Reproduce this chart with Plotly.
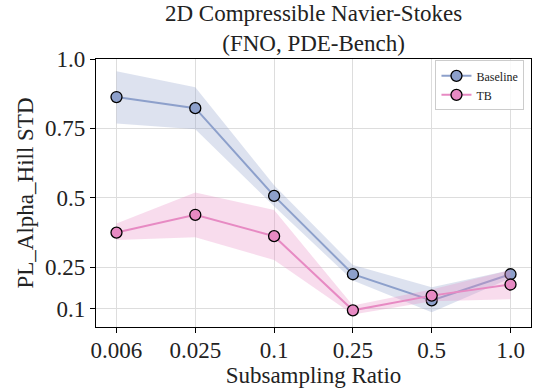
import plotly.graph_objects as go

# Subsampling ratios (categorical x axis)
ratios = ["0.006", "0.025", "0.1", "0.25", "0.5", "1.0"]

# Mean PL_Alpha_Hill STD and shaded spread per method
baseline_mean = [0.863, 0.823, 0.507, 0.225, 0.131, 0.225]
baseline_upper = [0.956, 0.898, 0.545, 0.258, 0.178, 0.240]
baseline_lower = [0.768, 0.747, 0.470, 0.202, 0.088, 0.210]

tb_mean = [0.375, 0.439, 0.362, 0.095, 0.148, 0.188]
tb_upper = [0.408, 0.519, 0.456, 0.112, 0.170, 0.240]
tb_lower = [0.348, 0.358, 0.276, 0.080, 0.128, 0.135]

y_ticks = [0.1, 0.25, 0.5, 0.75, 1.0]
y_tick_text = ["0.1", "0.25", "0.5", "0.75", "1.0"]

FONT = "Liberation Serif, Times New Roman, serif"
TEXT = "#222222"
BLUE = "#8da0cb"
PINK = "#e78ac3"

fig = go.Figure()


def add_series(name, mean, upper, lower, color, band_rgba):
    fig.add_trace(go.Scatter(
        x=ratios + ratios[::-1],
        y=upper + lower[::-1],
        fill="toself",
        fillcolor=band_rgba,
        line=dict(width=0),
        mode="lines",
        hoverinfo="skip",
        showlegend=False,
    ))
    fig.add_trace(go.Scatter(
        x=ratios,
        y=mean,
        name=name,
        mode="lines+markers",
        line=dict(color=color, width=2),
        marker=dict(size=11, color=color, line=dict(color="black", width=1.3)),
    ))


add_series("Baseline", baseline_mean, baseline_upper, baseline_lower, BLUE,
           "rgba(141,160,203,0.3)")
add_series("TB", tb_mean, tb_upper, tb_lower, PINK, "rgba(231,138,195,0.3)")

axis_common = dict(
    showline=True,
    linecolor="black",
    linewidth=1.3,
    mirror=True,
    ticks="outside",
    ticklen=5,
    tickwidth=1.2,
    tickcolor="black",
    showgrid=True,
    gridcolor="#dddddd",
    gridwidth=1.2,
    zeroline=False,
    tickfont=dict(family=FONT, size=23, color=TEXT),
)

fig.update_layout(
    width=537,
    height=392,
    margin=dict(l=96, r=6, t=59, b=65),
    paper_bgcolor="white",
    plot_bgcolor="white",
    font=dict(family=FONT, color=TEXT),
    xaxis=dict(
        type="category",
        range=[-0.26, 5.26],
        ticklabelstandoff=-3,
        title=dict(text="Subsampling Ratio", font=dict(family=FONT, size=23), standoff=0),
        **axis_common,
    ),
    yaxis=dict(
        range=[0.035, 1.0],
        tickvals=y_ticks,
        ticktext=y_tick_text,
        title=dict(text="PL_Alpha_Hill STD", font=dict(family=FONT, size=23), standoff=4),
        **axis_common,
    ),
    legend=dict(
        x=0.985,
        y=0.995,
        xanchor="right",
        yanchor="top",
        bgcolor="rgba(255,255,255,0.85)",
        bordercolor="#cccccc",
        borderwidth=1,
        font=dict(family=FONT, size=12, color=TEXT),
        tracegroupgap=0,
        itemwidth=30,
    ),
    annotations=[dict(
        text="2D Compressible Navier-Stokes<br>(FNO, PDE-Bench)",
        xref="paper",
        yref="paper",
        x=0.5,
        y=1.112,
        xanchor="center",
        yanchor="middle",
        showarrow=False,
        font=dict(family=FONT, size=23, color=TEXT),
    )],
)

fig.write_html("out.html")
